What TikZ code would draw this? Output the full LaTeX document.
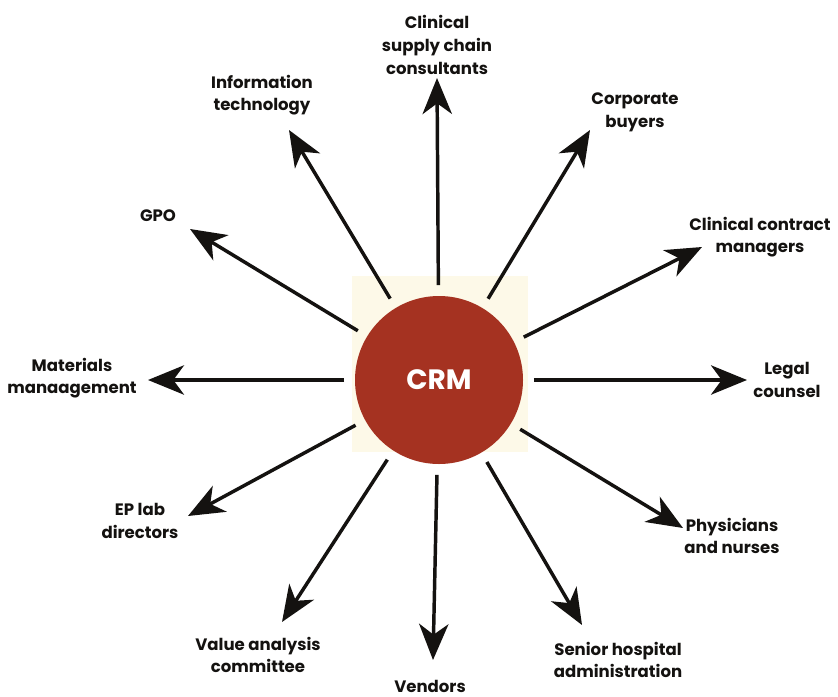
\documentclass[tikz,border=0pt]{standalone}
\usepackage{fontspec}
\setmainfont{Poppins}
\usetikzlibrary{arrows.meta}
\definecolor{crmred}{HTML}{A53221}
\definecolor{cream}{HTML}{FDF9E8}
\definecolor{ink}{HTML}{141210}
\begin{document}
\begin{tikzpicture}[x=0.75pt,y=-0.75pt,
  lbl/.style={align=center,text=ink,font=\bfseries\fontsize{12.4pt}{17pt}\selectfont},
  spoke/.style={line width=2.6pt,draw=ink,shorten <=8pt,
    -{Stealth[length=27pt,width=22pt,inset=8pt]}},
  hub/.style={circle,fill=crmred,minimum size=126pt,inner sep=0pt,
    text=white,font=\bfseries\fontsize{21pt}{27pt}\selectfont}]
\useasboundingbox (0,0) rectangle (838,696);
\fill[white] (0,0) rectangle (838,696);
% pale panel behind the hub
\fill[cream] (352,276) rectangle (528,452);

\node[hub] (crm) at (439,380) {CRM};

% arrow tips
\coordinate (tSupply) at (437,78);
\coordinate (tIT) at (289,130);
\coordinate (tCorp) at (590,130);
\coordinate (tContract) at (702,247);
\coordinate (tGPO) at (190,229);
\coordinate (tMat) at (148,380);
\coordinate (tLegal) at (747,380);
\coordinate (tEP) at (188,516);
\coordinate (tPhys) at (683,528);
\coordinate (tValue) at (282,622);
\coordinate (tVend) at (433,660);
\coordinate (tSenior) at (582,625);

\foreach \t in {tSupply,tIT,tCorp,tContract,tGPO,tMat,tLegal,tEP,tPhys,tValue,tVend,tSenior}
  \draw[spoke] (crm) -- (\t);

% labels
\node[lbl] (supply) at (437,45) {Clinical\\supply chain\\consultants};
\node[lbl] (it) at (262,95) {Information\\technology};
\node[lbl] (corp) at (635,112) {Corporate\\buyers};
\node[lbl] (contract) at (760,237) {Clinical contract\\managers};
\node[lbl] (gpo) at (158,216) {GPO};
\node[lbl] (mat) at (72,378) {Materials\\manaagement};
\node[lbl] (legal) at (787,380) {Legal\\counsel};
\node[lbl] (ep) at (140,521) {EP lab\\directors};
\node[lbl] (phys) at (732,536) {Physicians\\and nurses};
\node[lbl] (value) at (258,655) {Value analysis\\committee};
\node[lbl] (vend) at (430,686) {Vendors};
\node[lbl] (senior) at (618,660) {Senior hospital\\administration};
\end{tikzpicture}
\end{document}
